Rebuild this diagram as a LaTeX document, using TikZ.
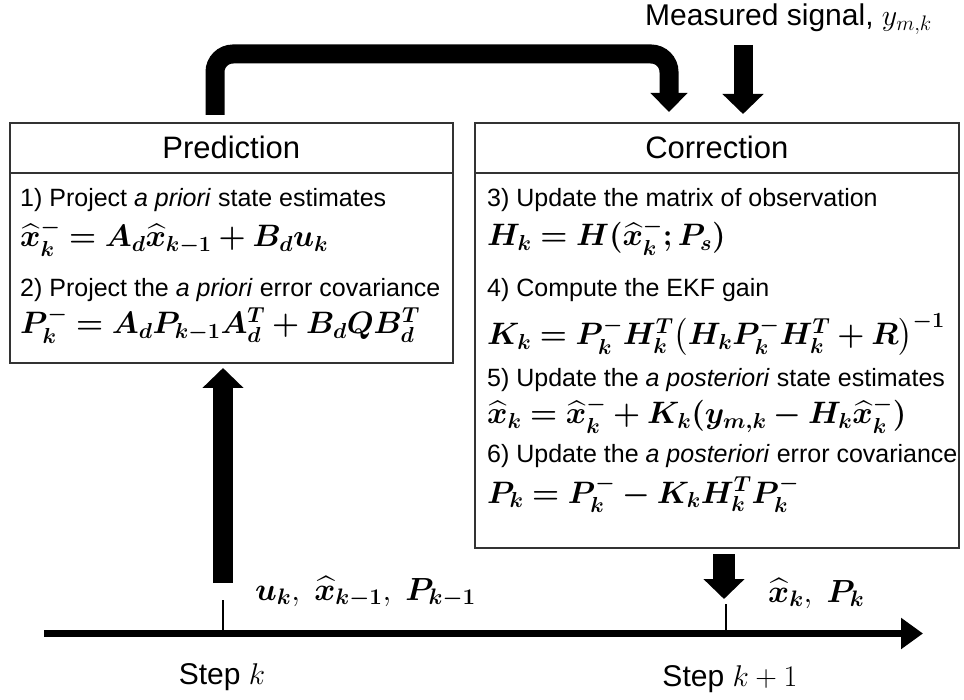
\documentclass[tikz,border=0pt]{standalone}
\usepackage{fix-cm}
\usepackage{amsmath,amssymb}
\usepackage{bm}
\usepackage{fontspec}
\setmainfont{Liberation Sans}
\usepackage{tikz}
\usetikzlibrary{arrows.meta,calc}

\begin{document}
\begin{tikzpicture}[x=1pt,y=-1pt,
    box/.style={draw=black!80,line width=1.6pt,anchor=north west,inner sep=0pt},
    head/.style={font=\fontsize{31}{37}\selectfont},
    stepline/.style={anchor=base west,inner sep=0pt,font=\fontsize{25}{30}\selectfont},
    eqline/.style={anchor=base west,inner sep=0pt,font=\fontsize{31}{37}\selectfont},
    lbl/.style={inner sep=0pt,font=\fontsize{30}{36}\selectfont},
    mlbl/.style={inner sep=0pt,anchor=base west,font=\fontsize{32}{38}\selectfont},
    fat/.style={line width=19pt,-{Triangle[width=40pt,length=20pt]}}]
  \useasboundingbox (0,0) rectangle (964,700);
  \node[box,head,minimum width=443,minimum height=50] (predhead) at (9,122) {Prediction};
  \node[box,minimum width=443,minimum height=190] (predbody) at (9,172) {};
  \node[box,head,minimum width=484,minimum height=50] (corrhead) at (474,122) {Correction};
  \node[box,minimum width=484,minimum height=375] (corrbody) at (474,172) {};
  \node[stepline] (s1) at (20,207) {1) Project \textit{a priori} state estimates};
  \node[eqline] (e1) at (20,247) {$\bm{\widehat{x}_k^- = A_d\widehat{x}_{k-1} + B_d u_k}$};
  \node[stepline] (s2) at (20,297) {2) Project the \textit{a priori} error covariance};
  \node[eqline] (e2) at (20,334) {$\bm{P_k^- = A_d P_{k-1} A_d^T + B_d Q B_d^T}$};
  \node[stepline] (s3) at (487,207) {3) Update the matrix of observation};
  \node[eqline] (e3) at (487,246) {$\bm{H_k = H(\widehat{x}_k^-; P_s)}$};
  \node[stepline] (s4) at (487,297) {4) Compute the EKF gain};
  \node[eqline] (e4) at (487,345) {$\bm{K_k = P_k^- H_k^T \bigl(H_k P_k^- H_k^T + R\bigr)^{-1}}$};
  \node[stepline] (s5) at (487,387) {5) Update the \textit{a posteriori} state estimates};
  \node[eqline] (e5) at (487,424) {$\bm{\widehat{x}_k = \widehat{x}_k^- + K_k(y_{m,k} - H_k\widehat{x}_k^-)}$};
  \node[stepline] (s6) at (487,462) {6) Update the \textit{a posteriori} error covariance};
  \node[eqline] (e6) at (487,503) {$\bm{P_k = P_k^- - K_k H_k^T P_k^-}$};
  \node[lbl,anchor=base west] (meas) at (645,26) {Measured signal, $y_{m,k}$};
  \coordinate (fbstart) at (215,115);
  \coordinate (fbend) at (669,112);
  \coordinate (mstart) at (743,45);
  \coordinate (mend) at (743,114);
  \draw[fat,rounded corners=18pt,-{Triangle[width=36pt,length=19pt]}] (fbstart) |- (669,54) -- (fbend);
  \draw[fat] (mstart) -- (mend);
  \coordinate (t0) at (44,633.5);
  \coordinate (t1) at (923,633.5);
  \coordinate (stepk) at (223,633.5);
  \coordinate (stepk1) at (726,633.5);
  \coordinate (instart) at (223,583);
  \coordinate (inend) at (223,368);
  \coordinate (outstart) at (724,554);
  \coordinate (outend) at (724,599);
  \draw[line width=7pt,-{Triangle[width=30pt,length=22pt]}] (t0) -- (t1);
  \draw[line width=2.5pt] (stepk) -- ++(0,-34);
  \draw[line width=2.5pt] (stepk1) -- ++(0,-30);
  \draw[fat,line width=20pt] (instart) -- (inend);
  \draw[fat,line width=22pt] (outstart) -- (outend);
  \node[mlbl] (inlbl) at (255,600) {$\bm{u_k},\ \bm{\widehat{x}_{k-1}},\ \bm{P_{k-1}}$};
  \node[mlbl] (outlbl) at (768,602) {$\bm{\widehat{x}_k},\ \bm{P_k}$};
  \node[lbl,anchor=base] (lk) at (222,684) {Step $k$};
  \node[lbl,anchor=base] (lk1) at (730,686) {Step $k+1$};
\end{tikzpicture}
\end{document}
